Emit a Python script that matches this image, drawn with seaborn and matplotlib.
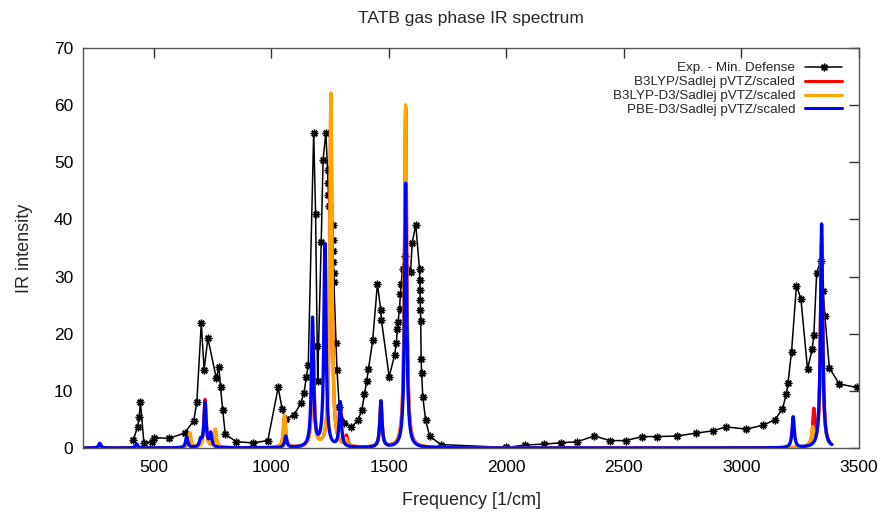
import numpy as np
import pandas as pd
import matplotlib
matplotlib.use("Agg")
import matplotlib.pyplot as plt
import seaborn as sns

# ---------------- data ----------------
exp_freq = [414, 432, 439, 444, 459, 494, 502, 566, 632, 671, 684, 703, 715, 731,
            767, 778, 785, 794, 805, 852, 922, 986, 1030, 1047, 1062, 1097, 1126,
            1140, 1150, 1158, 1181, 1189, 1196, 1198, 1213, 1221, 1233, 1240, 1242,
            1244, 1246, 1262, 1263, 1264, 1265, 1266, 1267, 1276, 1280, 1290, 1312,
            1340, 1370, 1386, 1397, 1406, 1414, 1432, 1452, 1466, 1469, 1502, 1525,
            1532, 1537, 1540, 1546, 1550, 1553, 1559, 1568, 1593, 1600, 1615, 1631,
            1632, 1633, 1634, 1635, 1636, 1638, 1640, 1645, 1657, 1674, 1721, 2000,
            2080, 2162, 2232, 2301, 2375, 2441, 2508, 2579, 2641, 2726, 2807, 2878,
            2935, 3021, 3092, 3141, 3174, 3191, 3198, 3213, 3234, 3253, 3281, 3301,
            3308, 3320, 3337, 3348, 3355, 3374, 3416, 3491]
exp_int = [1.4, 3.7, 5.4, 8.1, 0.9, 1.1, 1.8, 1.7, 2.6, 4.8, 8.0, 21.8, 13.7, 19.2,
           12.2, 14.1, 10.6, 6.7, 2.4, 1.1, 0.9, 1.3, 10.6, 6.8, 5.0, 5.8, 7.8,
           9.7, 12.5, 14.6, 55.2, 41.0, 17.9, 11.8, 36.1, 50.4, 55.2, 48.6, 46.4,
           44.2, 42.3, 39.0, 36.4, 34.4, 32.5, 30.6, 29.0, 18.4, 13.7, 7.1, 4.4,
           3.6, 4.9, 6.7, 9.4, 11.7, 13.8, 18.9, 28.7, 24.2, 22.4, 12.5, 16.2,
           18.3, 20.8, 22.1, 24.4, 27.0, 28.7, 31.4, 33.6, 30.8, 35.9, 39.1, 31.3,
           29.4, 27.7, 25.9, 24.1, 22.2, 15.6, 13.1, 9.0, 4.9, 2.1, 0.6, 0.1,
           0.5, 0.7, 0.9, 1.1, 2.1, 1.3, 1.3, 2.0, 2.0, 2.1, 2.6, 3.0,
           3.7, 3.3, 4.0, 4.9, 6.8, 9.4, 11.4, 16.8, 28.4, 26.1, 13.8, 17.3,
           19.8, 30.7, 32.7, 27.4, 23.1, 14.0, 11.2, 10.6]

# calculated stick spectra (position [1/cm], intensity), read from peaks
b3lyp_pos = [652, 719, 762, 1057, 1178, 1254, 1320, 1467, 1572, 3308, 3341]
b3lyp_int = [2.4, 8.4, 3.1, 5.4, 19.0, 61.5, 1.8, 8.0, 59.5, 6.0, 36.0]
b3lypd3_pos = [655, 720, 762, 1057, 1178, 1254, 1318, 1467, 1572, 3303, 3341]
b3lypd3_int = [2.6, 7.5, 3.1, 5.7, 18.0, 62.0, 1.2, 7.8, 60.0, 3.0, 37.0]
pbed3_pos = [271, 428, 641, 700, 719, 743, 1062, 1176, 1229, 1294, 1467, 1572, 3220, 3341]
pbed3_int = [0.8, 0.7, 1.9, 1.2, 7.8, 2.4, 2.0, 22.5, 35.5, 7.8, 8.1, 46.3, 5.4, 39.2]

labels = ["Exp. - Min. Defense", "B3LYP/Sadlej pVTZ/scaled",
          "B3LYP-D3/Sadlej pVTZ/scaled", "PBE-D3/Sadlej pVTZ/scaled"]
colors = ["black", "#ff0000", "#ffa500", "#0000ff"]

HWHM = 5.5
grid = np.arange(200.0, 3385.0, 0.5)


def broaden(pos, inten):
    y = np.zeros_like(grid)
    for p, h in zip(pos, inten):
        y += h * HWHM ** 2 / ((grid - p) ** 2 + HWHM ** 2)
    return y


# ---------------- plot ----------------
sns.set_style("white")
plt.rcParams["font.family"] = ["Liberation Sans", "DejaVu Sans"]

fig = plt.figure(figsize=(8.85, 5.19), dpi=100)
ax = fig.add_axes([83 / 885, 1 - 448 / 519, (859 - 83) / 885, 400 / 519])

exp_df = pd.DataFrame({"f": exp_freq, "I": exp_int})
sns.lineplot(data=exp_df, x="f", y="I", ax=ax, estimator=None, sort=False,
             color=colors[0], lw=1.1, marker=(8, 2, 0), markersize=5.5,
             markeredgewidth=1.0, markeredgecolor="black", label=labels[0])

for (pos, inten), c, lab in zip([(b3lyp_pos, b3lyp_int), (b3lypd3_pos, b3lypd3_int),
                                 (pbed3_pos, pbed3_int)], colors[1:], labels[1:]):
    df = pd.DataFrame({"f": grid, "I": broaden(pos, inten)})
    sns.lineplot(data=df, x="f", y="I", ax=ax, estimator=None, sort=False,
                 color=c, lw=2.4, label=lab)

ax.set_xlim(200, 3500)
ax.set_ylim(0, 70)
ax.set_xticks([500, 1000, 1500, 2000, 2500, 3000, 3500])
ax.set_yticks(range(0, 71, 10))
ax.tick_params(direction="in", length=7, width=1.0, top=True, right=True,
               labelsize=12.5, colors="#333333", labelcolor="black")
ax.tick_params(axis="x", pad=9)
ax.tick_params(axis="y", pad=7)
for s in ax.spines.values():
    s.set_color("#555555")
    s.set_linewidth(1.0)

ax.set_xlabel("Frequency [1/cm]", fontsize=13, labelpad=12)
ax.set_ylabel("IR intensity", fontsize=13, labelpad=15)
fig.text(471 / 885, 1 - 18 / 519, "TATB gas phase IR spectrum", ha="center",
         va="center", fontsize=12.5)

leg = ax.legend(loc="upper right", bbox_to_anchor=(842 / 885, 1 - 62 / 519),
                bbox_transform=fig.transFigure, frameon=False, markerfirst=False,
                fontsize=9.6, handlelength=2.75, handletextpad=0.75, labelspacing=0.12,
                borderpad=0, borderaxespad=0)
for t in leg.get_texts():
    t.set_ha("right")
leg._legend_box.align = "right"
for h in leg.get_lines()[1:]:
    h.set_linewidth(2.2)

fig.savefig("out.png", dpi=100)
